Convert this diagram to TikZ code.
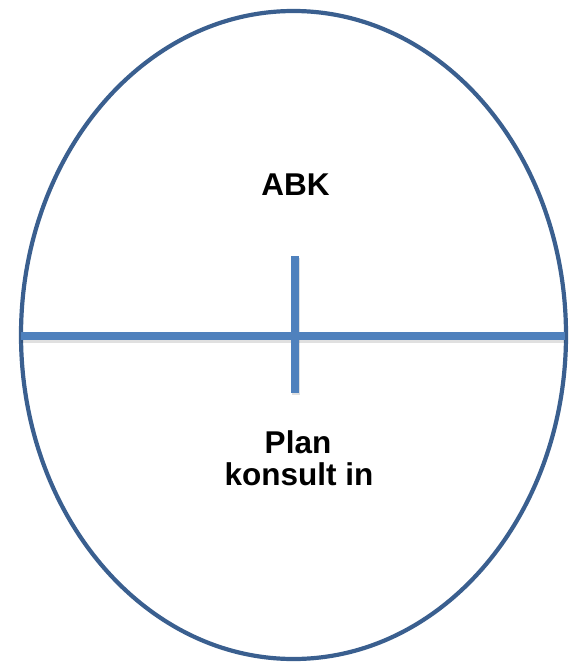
\documentclass[tikz,border=0pt]{standalone}
\usepackage{fontspec}
\setmainfont{Liberation Sans}
\definecolor{ringblue}{HTML}{3A5F8F}
\definecolor{lineblue}{HTML}{4F81BD}
\tikzset{
  ring/.style={draw=ringblue, line width=4.2pt},
  bar/.style={draw=lineblue, line width=7.5pt},
  barshadow/.style={draw=black, opacity=0.12, line width=8pt},
  label/.style={font=\fontsize{31.5}{32}\selectfont\bfseries, inner sep=0pt, anchor=base, text=black}
}
\begin{document}
\begin{tikzpicture}[x=1pt,y=-1pt]
\useasboundingbox (0,0) rectangle (569,663);
\draw[ring] (293.5,335) ellipse [x radius=272.5, y radius=324];
% shadows
\draw[barshadow] (21,338.5) -- (565,338.5);
\draw[barshadow] (296,258) -- (296,395);
\coordinate (hl) at (21,336);
\coordinate (hr) at (565,336);
\coordinate (vt) at (294.8,256);
\coordinate (vb) at (294.8,393);
\draw[bar] (hl) -- (hr);
\draw[bar] (vt) -- (vb);
\node[label] (abk) at (295.5,195) {ABK};
\node[label] (plan) at (298,453) {Plan};
\node[label] (konsult) at (299,485) {konsult in};
\end{tikzpicture}
\end{document}
